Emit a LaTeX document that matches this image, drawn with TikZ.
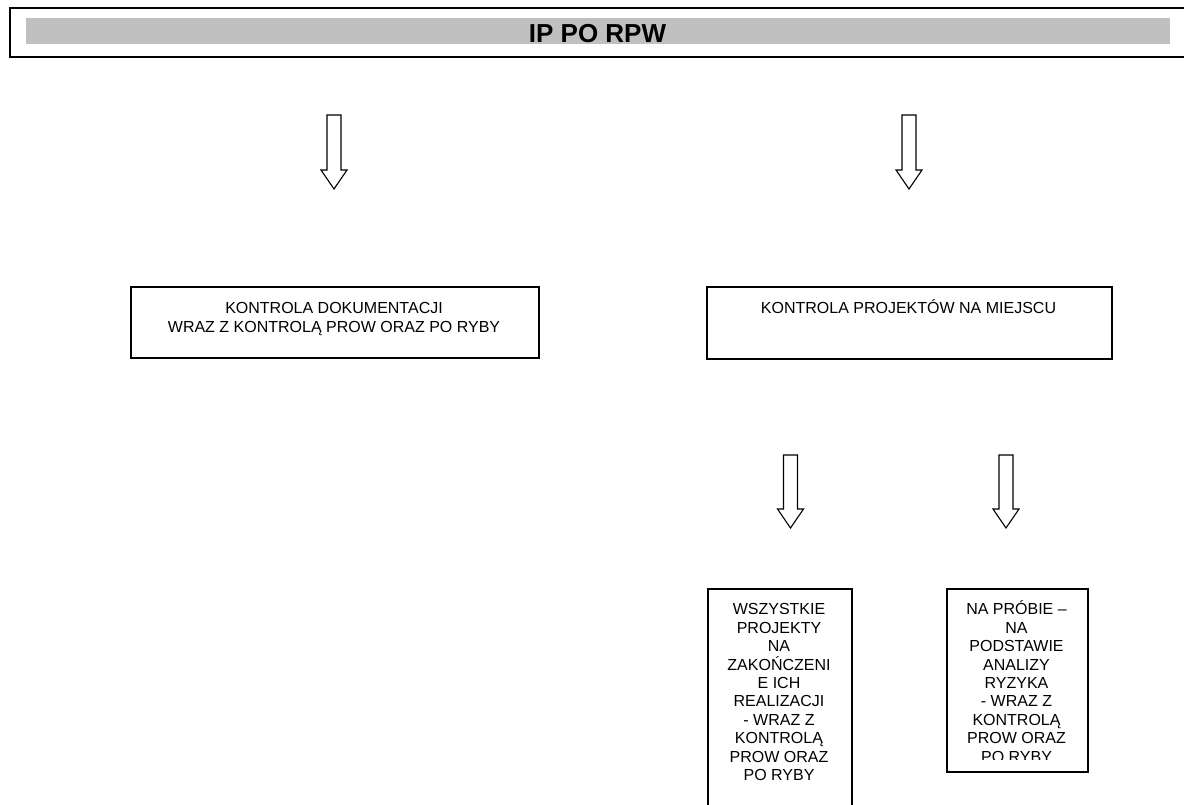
\documentclass[tikz,border=0pt]{standalone}
\usepackage{fontspec}
\setmainfont{Liberation Sans}
\usetikzlibrary{calc}
\tikzset{
  frame/.style={draw=black, line width=1.5pt, inner sep=0pt, fill=white, anchor=north west},
  boxtext/.style={inner sep=0pt, align=center, anchor=north, font=\fontsize{16}{18.4}\selectfont},
  blockarrow/.style={draw=black, line width=1.1pt, fill=white, line join=miter},
}
\newcommand\barrow[3]{% top coordinate, head start, tip
  \draw[blockarrow] ($(#1)+(-7,0)$) -- ($(#1)+(7,0)$) -- ($(#1)+(7,#2)$) -- ($(#1)+(13,#2)$)
    -- ($(#1)+(0,#3)$) -- ($(#1)+(-13,#2)$) -- ($(#1)+(-7,#2)$) -- cycle;}
\begin{document}
\begin{tikzpicture}[x=1pt,y=-1pt]
\useasboundingbox (0,0) rectangle (1184,804);
\clip (0,0) rectangle (1184,804);
\fill[white] (0,0) rectangle (1184,804);
% banner
\node[frame, line width=2pt, minimum width=1191pt, minimum height=49pt] (banner) at (9,7) {};
\node[fill={rgb,255:red,192;green,192;blue,192}, inner sep=0pt, anchor=north west,
      minimum width=1144pt, minimum height=26pt] (bar) at (26,18) {};
\node[inner sep=0pt, anchor=base, font=\fontsize{26}{30}\selectfont\bfseries] (title) at (597.5,42.3) {IP PO RPW};
% top arrows
\coordinate (a1) at (334,115);
\coordinate (a2) at (909,115);
\barrow{a1}{55}{74}
\barrow{a2}{55}{74}
% middle boxes
\node[frame, minimum width=408pt, minimum height=71pt] (b1) at (130,286) {};
\node[boxtext] (t1) at (334,297.5) {\rule{0pt}{16pt}KONTROLA DOKUMENTACJI\\WRAZ Z KONTROLĄ PROW ORAZ PO RYBY};
\node[frame, minimum width=405pt, minimum height=72pt] (b2) at (706,286) {};
\node[boxtext] (t2) at (908.5,297.5) {\rule{0pt}{16pt}KONTROLA PROJEKTÓW NA MIEJSCU};
% lower arrows
\coordinate (a3) at (790.5,455);
\coordinate (a4) at (1006,455);
\barrow{a3}{54}{73}
\barrow{a4}{54}{73}
% bottom boxes
\node[frame, minimum width=144pt, minimum height=240pt] (b3) at (707,588) {};
\node[boxtext] (t3) at (779,598.7) {\rule{0pt}{16pt}WSZYSTKIE\\PROJEKTY\\NA\\ZAKOŃCZENI\\E ICH\\REALIZACJI\\- WRAZ Z\\KONTROLĄ\\PROW ORAZ\\PO RYBY};
\node[frame, minimum width=141pt, minimum height=183pt] (b4) at (946,588) {};
\begin{scope}
\clip (946,588) rectangle (1087,759);
\node[boxtext] (t4) at (1016.5,598.7) {\rule{0pt}{16pt}NA PRÓBIE –\\NA\\PODSTAWIE\\ANALIZY\\RYZYKA\\- WRAZ Z\\KONTROLĄ\\PROW ORAZ\\PO RYBY};
\end{scope}
\end{tikzpicture}
\end{document}
